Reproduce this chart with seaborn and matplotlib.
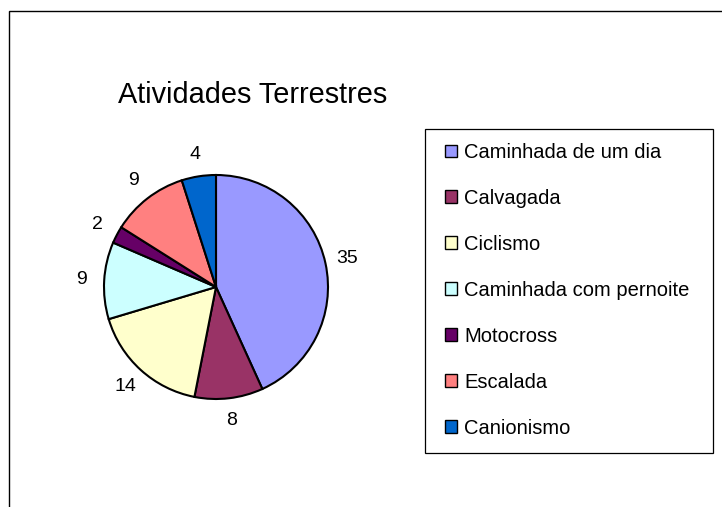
import matplotlib
matplotlib.use("Agg")
import matplotlib.pyplot as plt
import matplotlib.patches as mpatches
import numpy as np
import seaborn as sns

# Chart data
categories = ['Caminhada de um dia', 'Calvagada', 'Ciclismo',
              'Caminhada com pernoite', 'Motocross', 'Escalada', 'Canionismo']
values = [35, 8, 14, 9, 2, 9, 4]
colors = ['#9999FF', '#993366', '#FFFFCC', '#CCFFFF', '#660066', '#FF8080', '#0066CC']
title = 'Atividades Terrestres'

sns.set_style("white")
plt.rcParams['font.family'] = ['Liberation Sans', 'DejaVu Sans']

palette = sns.color_palette(colors)
total = sum(values)

fig = plt.figure(figsize=(7.22, 5.07), dpi=100)
W, H = 722, 507

def fx(px):
    return px / W

def fy(py):
    return 1 - py / H

# outer chart frame (only left and top edges visible)
fig.add_artist(mpatches.Rectangle((fx(9), -0.2), 1.5, fy(10.5) + 0.2,
                                  transform=fig.transFigure, fill=False,
                                  edgecolor='black', linewidth=1.0, clip_on=False))

# pie axes: center (216, 287), radius 112 px
cx, cy, r = 216, 287, 112
ax = fig.add_axes([fx(cx - r), fy(cy + r), 2 * r / W, 2 * r / H])
ax.pie(values, colors=palette, startangle=90, counterclock=False, radius=1.0,
       wedgeprops=dict(edgecolor='black', linewidth=1.5))
ax.set_xlim(-1, 1)
ax.set_ylim(-1, 1)
ax.set_aspect('equal')
ax.axis('off')

# value labels outside the slices
theta = 90.0
for v in values:
    ang = np.deg2rad(theta - v / total * 180.0)
    theta -= v / total * 360.0
    ax.text(1.2 * np.cos(ang), 1.2 * np.sin(ang), str(v),
            ha='center', va='center', fontsize=14, color='black')

fig.text(fx(118), fy(103), title, fontsize=20.8, ha='left', va='baseline', color='black')

# legend box drawn separately, entries inside it
fig.add_artist(mpatches.Rectangle((fx(425), fy(453)), (713 - 425) / W, (453 - 129) / H,
                                  transform=fig.transFigure, fill=False,
                                  edgecolor='black', linewidth=0.9))
handles = [mpatches.Patch(facecolor=c, edgecolor='black', linewidth=1.0) for c in palette]
fig.legend(handles, categories, loc='upper left',
           bbox_to_anchor=(fx(445), fy(143)),
           fontsize=14.5, frameon=False, borderpad=0, borderaxespad=0,
           labelspacing=1.34, handlelength=0.6, handleheight=0.6,
           handletextpad=0.35, labelcolor='black')

fig.savefig('out.png', dpi=100, facecolor='white')
